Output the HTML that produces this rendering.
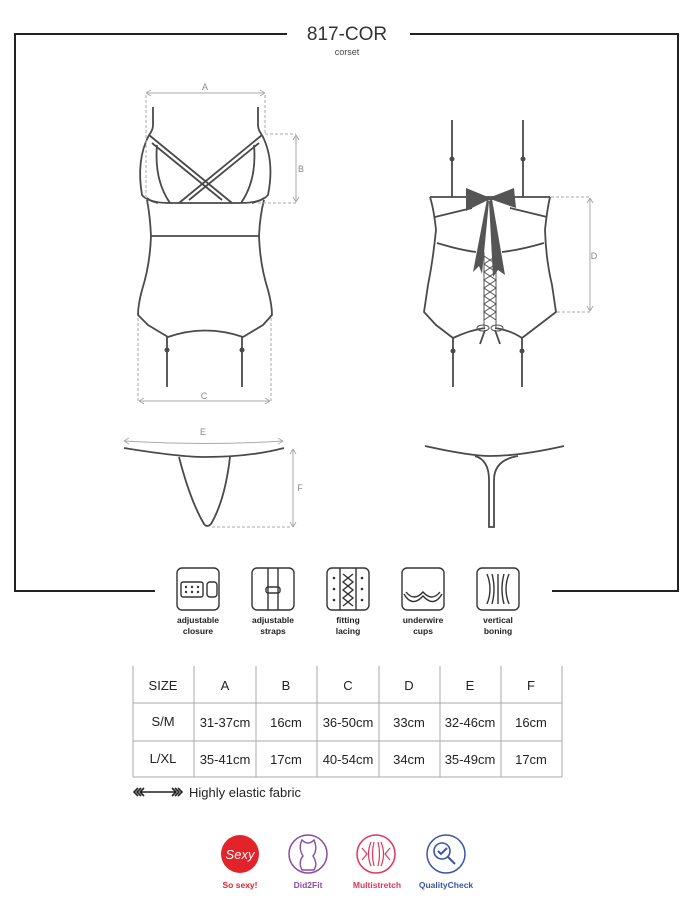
<!DOCTYPE html>
<html><head><meta charset="utf-8"><style>
html,body{margin:0;padding:0;background:#fff;}
svg{display:block;}
text{font-family:"Liberation Sans",sans-serif;}
</style></head><body>
<svg width="693" height="910" viewBox="0 0 693 910" xmlns="http://www.w3.org/2000/svg">
<!-- frame -->
<g stroke="#222" stroke-width="2" fill="none">
<path d="M287 34 H15 V591 H155"/>
<path d="M410 34 H678 V591 H552"/>
</g>
<text x="347" y="40" font-size="19" text-anchor="middle" fill="#333">817-COR</text>
<text x="347" y="55" font-size="9" text-anchor="middle" fill="#444">corset</text>

<!-- front corset -->
<g stroke="#4a4a4a" stroke-width="1.8" fill="none" stroke-linejoin="round">
<path d="M153 107 V125 Q153 130 149 135"/>
<path d="M258 107 V125 Q258 130 262 135"/>
<path d="M149 135 Q136 160 142 195 Q146 200 158 203"/>
<path d="M262 135 Q275 160 268 195 Q264 200 252 203"/>
<path d="M149 135 L232 203 M152 143 L222 200"/>
<path d="M262 135 L179 203 M259 143 L189 200"/>
<path d="M157 145 Q154 180 170 203 M254 145 Q257 180 241 203"/>
<path d="M147 198 Q152 203 170 203 H240 Q258 203 264 198"/>
<path d="M147 200 Q150 215 151 236 Q150 265 142 290 Q138 305 138 315 L148 325 L168 337 Q205 324 243 337 L263 325 L272 315 Q272 305 268 290 Q260 265 259 236 Q260 215 264 200"/>
<path d="M151 236 H259"/>
<path d="M167 337 V387 M242 337 V387"/>
</g>
<g fill="#4a4a4a"><circle cx="167" cy="350" r="2.5"/><circle cx="242" cy="350" r="2.5"/></g>
<!-- dims front -->
<g stroke="#aaa" stroke-width="1" fill="none">
<path d="M146 93 H265 M146 93 l5 -3 M146 93 l5 3 M265 93 l-5 -3 M265 93 l-5 3"/>
<path d="M146 95 V200 M265 95 V135" stroke-dasharray="3 2"/>
<path d="M265 134 H296 M258 203 H296" stroke-dasharray="3 2"/>
<path d="M296 135 V202 M296 135 l-3 5 M296 135 l3 5 M296 202 l-3 -5 M296 202 l3 -5"/>
<path d="M138 318 V401 M271 318 V401" stroke-dasharray="3 2"/>
<path d="M139 401 H270 M139 401 l5 -3 M139 401 l5 3 M270 401 l-5 -3 M270 401 l-5 3"/>
</g>
<g font-size="9" fill="#888" text-anchor="middle">
<text x="205" y="90">A</text><text x="301" y="172">B</text><text x="204" y="399">C</text>
<text x="594" y="259">D</text><text x="203" y="435">E</text><text x="300" y="491">F</text>
</g>

<!-- back corset -->
<g stroke="#4a4a4a" stroke-width="1.8" fill="none" stroke-linejoin="round">
<path d="M452 120 V197 M523 120 V197"/>
<path d="M430 197 H550"/>
<path d="M430 197 Q434 210 436 230 Q433 260 428 285 L424 312 L436 325 L453 338 Q470 330 485 328 M495 328 Q510 330 522 338 L539 325 L556 312 L552 285 Q546 260 545 230 Q547 210 550 197"/>
<path d="M435 217 L472 208 M547 217 L510 208"/>
<path d="M437 243 Q460 250 476 252 M544 243 Q520 250 502 252"/>
<path d="M453 338 V387 M522 338 V387"/>
<path d="M485 330 L480 344 M495 330 L500 344"/>
</g>
<g fill="#4a4a4a"><circle cx="452" cy="159" r="2.5"/><circle cx="523" cy="159" r="2.5"/><circle cx="453" cy="351" r="2.5"/><circle cx="522" cy="351" r="2.5"/></g>
<!-- lacing -->
<g stroke="#555" stroke-width="1" fill="none">
<path d="M484 252 V327 M496 250 V327"/>
<path d="M484 256 L496 264 L484 272 L496 280 L484 288 L496 296 L484 304 L496 312 L484 320"/>
<path d="M496 256 L484 264 L496 272 L484 280 L496 288 L484 296 L496 304 L484 312 L496 320"/>
<ellipse cx="483" cy="328" rx="6" ry="3"/><ellipse cx="497" cy="328" rx="6" ry="3"/>
</g>
<!-- bow -->
<g fill="#555">
<path d="M466 188 L488 197 L491 197 L514 188 L516 208 L493 200 L488 200 L466 211 Z"/>
<path d="M487 199 L473 272 L479 266 L482 274 L489 201 Z"/>
<path d="M492 199 L505 275 L498 270 L493 277 L489 201 Z"/>
</g>
<g stroke="#aaa" stroke-width="1" fill="none">
<path d="M551 197 H590 M557 312 H590" stroke-dasharray="3 2"/>
<path d="M590 198 V311 M590 198 l-3 5 M590 198 l3 5 M590 311 l-3 -5 M590 311 l3 -5"/>
</g>

<!-- front thong -->
<g stroke="#4a4a4a" stroke-width="1.8" fill="none">
<path d="M124 448 Q180 457 205 457 Q250 457 284 448"/>
<path d="M179 457 Q190 500 204 524 Q207 528 211 524 Q225 500 230 457"/>
</g>
<g stroke="#aaa" stroke-width="1" fill="none">
<path d="M124 441 Q205 446 283 441 M124 441 l5 -3 M124 441 l5 3 M283 441 l-5 -3 M283 441 l-5 3"/>
<path d="M293 449 V527 M293 449 l-3 5 M293 449 l3 5 M293 527 l-3 -5 M293 527 l3 -5"/>
<path d="M212 527 H290" stroke-dasharray="3 2"/>
</g>
<!-- back thong -->
<g stroke="#4a4a4a" stroke-width="1.8" fill="none">
<path d="M425 446 Q470 456 490 456 Q520 456 564 446"/>
<path d="M475 456 Q489 460 489 480 V527 H494 V480 Q494 460 518 456"/>
</g>

<!-- feature icons -->
<g stroke="#333" stroke-width="1.4" fill="none">
<rect x="177" y="568" width="42" height="42" rx="5"/>
<rect x="181" y="582" width="22" height="15" rx="2"/><rect x="207" y="582" width="10" height="15" rx="3"/>
<rect x="252" y="568" width="42" height="42" rx="5"/>
<path d="M268 568 V610 M278 568 V610"/><rect x="266" y="587" width="14" height="6" rx="2"/>
<rect x="327" y="568" width="42" height="42" rx="5"/>
<path d="M340 568 V610 M356 568 V610 M343 574 L353 582 L343 590 L353 598 L343 606 M353 574 L343 582 L353 590 L343 598 L353 606"/>
<rect x="402" y="568" width="42" height="42" rx="5"/>
<path d="M404 594 Q412 608 423 596 Q434 608 442 594 M406 592 Q414 602 423 592 Q432 602 440 592"/>
<rect x="477" y="568" width="42" height="42" rx="5"/>
<path d="M487 574 Q493 589 487 604 M492 574 Q496 589 492 604 M504 574 Q500 589 504 604 M509 574 Q503 589 509 604 M498 574 V604"/>
</g>
<g fill="#333"><circle cx="186" cy="587" r="1.2"/><circle cx="186" cy="592" r="1.2"/><circle cx="192" cy="587" r="1.2"/><circle cx="192" cy="592" r="1.2"/><circle cx="198" cy="587" r="1.2"/><circle cx="198" cy="592" r="1.2"/>
<circle cx="334" cy="578" r="1.3"/><circle cx="334" cy="589" r="1.3"/><circle cx="334" cy="600" r="1.3"/><circle cx="362" cy="578" r="1.3"/><circle cx="362" cy="589" r="1.3"/><circle cx="362" cy="600" r="1.3"/></g>
<g font-size="8.5" font-weight="bold" fill="#222" text-anchor="middle">
<text x="198" y="623">adjustable</text><text x="198" y="634">closure</text>
<text x="273" y="623">adjustable</text><text x="273" y="634">straps</text>
<text x="348" y="623">fitting</text><text x="348" y="634">lacing</text>
<text x="423" y="623">underwire</text><text x="423" y="634">cups</text>
<text x="498" y="623">vertical</text><text x="498" y="634">boning</text>
</g>

<!-- table -->
<g stroke="#aaa" stroke-width="1" fill="none">
<path d="M133 703 H562 M133 741 H562 M133 777 H562"/>
<path d="M133 666 V777 M194 666 V777 M256 666 V777 M317 666 V777 M379 666 V777 M440 666 V777 M501 666 V777 M562 666 V777"/>
</g>
<g font-size="13" fill="#222" text-anchor="middle">
<text x="163" y="690">SIZE</text><text x="225" y="690">A</text><text x="286" y="690">B</text><text x="348" y="690">C</text><text x="409" y="690">D</text><text x="470" y="690">E</text><text x="531" y="690">F</text>
<text x="163" y="726">S/M</text><text x="225" y="727">31-37cm</text><text x="286" y="727">16cm</text><text x="348" y="727">36-50cm</text><text x="409" y="727">33cm</text><text x="470" y="727">32-46cm</text><text x="531" y="727">16cm</text>
<text x="163" y="763">L/XL</text><text x="225" y="764">35-41cm</text><text x="286" y="764">17cm</text><text x="348" y="764">40-54cm</text><text x="409" y="764">34cm</text><text x="470" y="764">35-49cm</text><text x="531" y="764">17cm</text>
</g>
<g stroke="#222" stroke-width="1.6" fill="none">
<path d="M140 792 H176 M138 788 l-4 4 l4 4 M141 788 l-4 4 l4 4 M144 788 l-4 4 l4 4 M172 788 l4 4 l-4 4 M175 788 l4 4 l-4 4 M178 788 l4 4 l-4 4"/>
</g>
<text x="189" y="797" font-size="13" fill="#222">Highly elastic fabric</text>

<!-- bottom badges -->
<circle cx="240" cy="854" r="19" fill="#e2232a"/>
<text x="240" y="859" font-size="13" font-style="italic" fill="#fff" text-anchor="middle" font-family="Liberation Serif,serif">Sexy</text>
<circle cx="308" cy="854" r="19" fill="none" stroke="#8b4ba6" stroke-width="1.5"/>
<path d="M302 840 Q308 846 314 840 Q318 850 313 856 Q318 864 314 870 H302 Q298 862 303 856 Q298 848 302 840 Z" fill="none" stroke="#8b4ba6" stroke-width="1.4"/>
<circle cx="376" cy="854" r="19" fill="none" stroke="#e0365a" stroke-width="1.5"/>
<g stroke="#e0365a" stroke-width="1.2" fill="none"><path d="M371 842 Q366 854 371 866 M374 842 Q371 854 374 866 M378 842 Q381 854 378 866 M381 842 Q386 854 381 866 M362 848 l5 6 l-5 6 M390 848 l-5 6 l5 6"/></g>
<circle cx="446" cy="854" r="19" fill="none" stroke="#3a55a3" stroke-width="1.5"/>
<circle cx="442" cy="851" r="8" fill="none" stroke="#3a55a3" stroke-width="1.6"/>
<path d="M438 851 l3 3 l6 -6 M448 857 l7 7" stroke="#3a55a3" stroke-width="2" fill="none"/>
<g font-size="8.5" font-weight="bold" text-anchor="middle">
<text x="240" y="888" fill="#e2232a">So sexy!</text>
<text x="308" y="888" fill="#8b4ba6">Did2Fit</text>
<text x="377" y="888" fill="#e0365a">Multistretch</text>
<text x="446" y="888" fill="#3a55a3">QualityCheck</text>
</g>
</svg>
</body></html>
